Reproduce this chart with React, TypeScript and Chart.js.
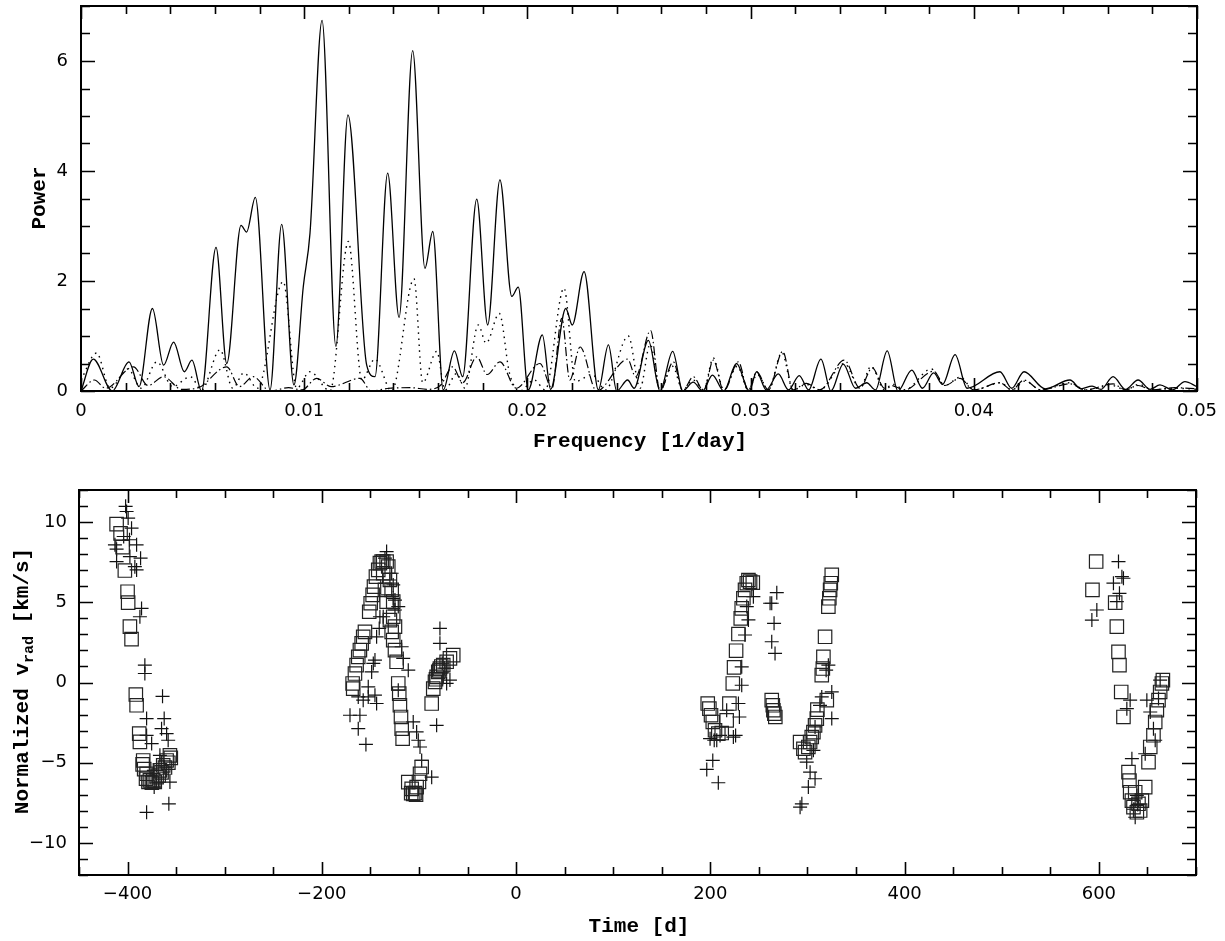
import React, { useEffect, useRef } from 'react';
import { Chart, registerables } from 'chart.js';
Chart.register(...registerables);

// ---------- tick labels ----------
const freqTicks = [0, 0.01, 0.02, 0.03, 0.04, 0.05];
const powerTicks = [0, 2, 4, 6];
const timeTicks = [-400, -200, 0, 200, 400, 600];
const velTicks = [-10, -5, 0, 5, 10];

// ---------- periodogram (solid) ----------
const solidFreq = [0, 0.00055, 0.0014, 0.00215, 0.0026, 0.0032, 0.0037, 0.00415, 0.00463, 0.00497, 0.0054, 0.00605, 0.00653, 0.00717, 0.00742, 0.00781, 0.00847, 0.00899, 0.00954, 0.00996, 0.01026, 0.0108, 0.01142, 0.01196, 0.0128, 0.01317, 0.01374, 0.01425, 0.01486, 0.01541, 0.01576, 0.01623, 0.01673, 0.0171, 0.01773, 0.01822, 0.01877, 0.0193, 0.01959, 0.02004, 0.02067, 0.02104, 0.02172, 0.02201, 0.02254, 0.02318, 0.02363, 0.024, 0.02449, 0.02478, 0.02542, 0.02594, 0.02651, 0.02696, 0.02743, 0.02785, 0.02829, 0.0288, 0.02937, 0.02994, 0.03027, 0.0307, 0.03124, 0.0317, 0.03218, 0.0326, 0.03315, 0.0336, 0.03415, 0.0347, 0.0352, 0.0356, 0.03612, 0.0366, 0.03722, 0.0377, 0.0382, 0.0386, 0.03916, 0.0397, 0.04117, 0.0417, 0.04225, 0.0432, 0.04431, 0.0448, 0.0453, 0.0457, 0.04624, 0.0468, 0.04736, 0.0479, 0.04834, 0.0489, 0.04946, 0.05];
const solidPower = [0, 0.58, 0, 0.53, 0.08, 1.5, 0.47, 0.89, 0.35, 0.56, 0, 2.61, 0.5, 3.01, 2.89, 3.52, 0.02, 3.03, 0.11, 1.9, 2.87, 6.74, 0.81, 5.02, 0.47, 0.26, 3.96, 1.34, 6.19, 2.23, 2.9, 0.02, 0.73, 0.26, 3.49, 1.2, 3.84, 1.72, 1.89, 0.02, 1.02, 0.03, 1.5, 1.2, 2.17, 0.02, 0.84, 0, 0.2, 0.05, 0.92, 0, 0.72, 0, 0.16, 0, 0.29, 0, 0.5, 0, 0.35, 0.02, 0.31, 0.02, 0.28, 0.02, 0.58, 0, 0.49, 0.05, 0.15, 0.02, 0.73, 0, 0.38, 0.05, 0.33, 0.12, 0.66, 0.05, 0.35, 0.05, 0.35, 0.04, 0.2, 0.04, 0.09, 0.03, 0.26, 0.03, 0.2, 0.03, 0.11, 0.02, 0.17, 0.08];

// ---------- dotted ----------
const dotFreq = [0, 0.0007, 0.0013, 0.0021, 0.0027, 0.0034, 0.0041, 0.0049, 0.0054, 0.00623, 0.0068, 0.0073, 0.0079, 0.00906, 0.00966, 0.01026, 0.01116, 0.01198, 0.01258, 0.01317, 0.01392, 0.01492, 0.01531, 0.01594, 0.01631, 0.01683, 0.0172, 0.0178, 0.01815, 0.01874, 0.0192, 0.01967, 0.0203, 0.0208, 0.02164, 0.02215, 0.0229, 0.0235, 0.02452, 0.02505, 0.0255, 0.02594, 0.0265, 0.02696, 0.02743, 0.0279, 0.02833, 0.0288, 0.0294, 0.0299, 0.0303, 0.0308, 0.0314, 0.0319, 0.0325, 0.0331, 0.0342, 0.0349, 0.0354, 0.036, 0.0364, 0.0369, 0.0381, 0.0387, 0.0394, 0.04, 0.0412, 0.0417, 0.0423, 0.043, 0.0443, 0.045, 0.0462, 0.0468, 0.0474, 0.048, 0.049, 0.05];
const dotPower = [0.2, 0.69, 0.05, 0.4, 0.05, 0.53, 0.08, 0.26, 0.02, 0.75, 0.05, 0.33, 0.05, 1.99, 0.05, 0.35, 0, 2.72, 0.2, 0.58, 0, 2.04, 0.15, 0.72, 0.02, 0.32, 0.05, 1.2, 0.87, 1.41, 0.32, 0, 0.2, 0.02, 1.87, 0.17, 0.3, 0.02, 1.0, 0.05, 0.85, 0.02, 0.45, 0.02, 0.2, 0.02, 0.6, 0.02, 0.45, 0.02, 0.3, 0.02, 0.7, 0.02, 0.12, 0.02, 0.5, 0.05, 0.45, 0.02, 0.12, 0.02, 0.4, 0.1, 0.25, 0.02, 0.15, 0.02, 0.18, 0.02, 0.15, 0.02, 0.1, 0.02, 0.12, 0.02, 0.05, 0.03];

// ---------- dash-dot ----------
const dashFreq = [0, 0.0006, 0.0011, 0.00235, 0.003, 0.0037, 0.0045, 0.0052, 0.00653, 0.0071, 0.00772, 0.00847, 0.0093, 0.0099, 0.01056, 0.0112, 0.0125, 0.013, 0.0138, 0.0148, 0.0155, 0.0161, 0.01665, 0.0171, 0.01773, 0.0182, 0.01877, 0.0195, 0.02056, 0.0211, 0.02154, 0.0219, 0.02236, 0.0231, 0.02449, 0.02485, 0.02552, 0.02594, 0.02654, 0.02696, 0.02743, 0.0279, 0.02833, 0.0288, 0.02945, 0.0299, 0.03027, 0.0308, 0.03144, 0.0319, 0.0325, 0.0331, 0.0342, 0.0349, 0.03545, 0.036, 0.0363, 0.0369, 0.0382, 0.0387, 0.03938, 0.04, 0.04117, 0.0417, 0.04225, 0.043, 0.04431, 0.045, 0.04624, 0.0468, 0.04736, 0.048, 0.049, 0.05];
const dashPower = [0, 0.2, 0.05, 0.44, 0.1, 0.26, 0.03, 0.05, 0.44, 0.08, 0.26, 0, 0.06, 0.02, 0.23, 0.08, 0.23, 0, 0.05, 0.06, 0.03, 0.1, 0.44, 0.15, 0.62, 0.3, 0.53, 0.05, 0.5, 0.05, 1.32, 0.2, 0.8, 0, 0.58, 0.26, 1.1, 0, 0.53, 0, 0.26, 0, 0.56, 0, 0.53, 0, 0.35, 0.02, 0.72, 0.02, 0.14, 0.02, 0.56, 0.05, 0.42, 0.05, 0.1, 0.02, 0.36, 0.1, 0.23, 0.02, 0.15, 0.02, 0.2, 0.02, 0.13, 0.02, 0.13, 0.02, 0.1, 0.02, 0.06, 0.04];

// ---------- radial velocities: squares ----------
const sqTime = [-411.3, -407.2, -405.1, -402.8, -400, -399.4, -397.6, -395.9, -391.5, -390.7, -388, -387.3, -384.5, -383.9, -382.9, -381, -380.4, -378.5, -377, -375, -373.6, -372, -370.1, -368, -366.7, -365, -363.3, -361.5, -359.8, -358, -356.4, -355.5,
  -168.3, -167.7, -165.9, -164.2, -162.5, -160.8, -159, -157.4, -155.6, -151.2, -149.7, -147.7, -146.3, -144.3, -141.9, -140.2, -138.4, -136.8, -133.3, -131.6,
  -136.8, -135, -133.3, -129.9, -128.1, -126.5, -124.7, -123, -121.3, -120.3, -119.6, -118.5, -117.8, -116.8, -129.9, -128.1, -126.5, -126.5, -124.7,
  -111, -108, -107.5, -105.9, -104, -103, -102.4, -100, -98.9, -97.2,
  -86.9, -85.3, -83.5, -82.5, -81.8, -80.1, -79, -78.4, -77, -75, -71.5, -68.1, -64.7,
  197.3, 199, 200.7, 202.5, 204.8, 208.2, 211.7, 216.8, 219.6, 223.1, 224.4, 226.5, 228.9, 231.3, 232.3, 234, 235.7, 237.5, 239.2, 240.9, 243.7,
  263.2, 264.3, 264.9, 265.9, 266.9,
  292.4, 295.8, 297.5, 300.9, 302.7, 304.4, 306.1, 307.8, 309.6, 310.2, 319.9, 314.7, 315.8, 316.4, 318.1, 321.5, 322.5, 323.3, 324, 325,
  597.2, 593.4, 616.8, 618.5, 620.2, 621.2, 623, 625.3, 630.5, 631.5, 632.2, 634, 635.6, 637.4, 639.1, 640.8, 642.5, 644.3, 647.7, 651.1, 652.9, 656.2, 658, 659.7, 661.4, 663.1, 664.9, 665.9];
const sqVel = [9.87, 9.3, 8.44, 6.98, 5.66, 4.98, 3.48, 2.7, -0.75, -1.42, -3.19, -3.7, -5.1, -4.86, -5.4, -6.0, -5.69, -6.2, -6.1, -6.25, -6.1, -6.2, -5.9, -5.8, -5.48, -5.6, -5.17, -5.3, -4.86, -5.0, -4.54, -4.7,
  -0.06, -0.38, 0.56, 1.08, 1.6, 2.02, 2.44, 2.85, 3.16, 4.41, 4.94, 5.46, 5.98, 6.6, 7.02, 7.44, 7.54, 7.54, 7.54, 7.23,
  6.81, 5.77, 5.04, 3.89, 3.16, 2.64, 2.02, 1.29, -0.06, -0.69, -1.42, -2.15, -2.88, -3.5, 6.39, 5.77, 5.04, 4.1, 3.48,
  -6.21, -6.9, -6.63, -6.94, -6.9, -7.0, -6.52, -6.2, -5.69, -5.27,
  -1.31, -0.38, 0.04, 0.2, 0.35, 0.66, 0.75, 0.87, 1.0, 1.08, 1.29, 1.5, 1.71,
  -1.31, -1.63, -2.04, -2.46, -2.98, -3.19, -3.15, -2.36, -1.31, -0.06, 0.94, 1.98, 3.02, 4.0, 4.62, 5.25, 5.77, 6.19, 6.39, 6.29, 6.23,
  -1.1, -1.42, -1.73, -1.94, -2.15,
  -3.71, -4.13, -4.34, -4.02, -3.71, -3.4, -3.09, -2.67, -2.25, -1.69, -1.1, 0.46, 0.87, 1.6, 2.85, 4.73, 5.25, 5.77, 6.19, 6.71,
  7.54, 5.77, 4.98, 3.48, 1.91, 1.08, -0.59, -2.15, -5.59, -6.11, -6.84, -7.36, -7.77, -6.84, -8.09, -7.56, -7.98, -7.36, -6.52, -4.96, -4.02, -3.29, -2.46, -1.73, -1.1, -0.59, -0.06, 0.15];

// ---------- radial velocities: crosses ----------
const plusTime = [-402, -401, -399.4, -395.9, -413, -411.3, -411.3, -397.6, -390.7, -386.6, -390.7, -392.5, -385.6, -387.3, -382.2, -382.2, -364, -380.4, -362.3, -365, -380.4, -375.2, -359.8, -358.2, -366.7, -372.9, -370.1, -372.6, -380.4, -357.5, -356.4, -362.3, -404, -398,
  -171, -160.8, -162.5, -154.6, -162.5, -157.4, -152.2, -145.3, -143.6, -152.2, -148.7, -147, -145.3, -143.6, -140.9, -140.2, -133.3, -135, -128.1, -126.5, -124.7, -121.3, -117.8, -116.2, -111, -121.3, -129.9, -126.5, -124.7, -136.8, -105.9, -102.4, -100.7, -98.9, -97.2, -86.9, -78.4, -78.4, -68.1, -71.5, -81.8, -76, -74,
  268.4, 263.2, 261.5, 265.6, 263.2, 266.6, 196.3, 202.5, 208.2, 199.7, 206.6, 216.8, 223.7, 229.9, 228.9, 232.3, 232.3, 235.7, 239.2, 237.5, 244.3, 292.4, 294.2, 300.9, 302.7, 307.8, 299.2, 306.1, 307.8, 312.9, 314.7, 325, 325, 319.2, 321.5, 204, 210, 226,
  620.2, 623.7, 625.3, 615, 621.2, 618.5, 597.9, 592.8, 632.2, 628.8, 649.4, 652.9, 656.2, 658, 647.7, 634, 639.1, 637.4, 663.1, 661.4, 636, 640];
const plusVel = [10.98, 10.66, 10.25, 9.62, 8.58, 8.31, 7.54, 7.85, 8.58, 7.75, 7.02, 7.22, 4.62, 4.1, 1.08, 0.56, -0.86, -2.25, -2.25, -2.88, -3.3, -3.81, -3.19, -3.6, -4.54, -5.48, -6.21, -6.52, -8.09, -7.56, -6.21, -5.27, 9.1, 8.9,
  -2.04, -2.04, -2.88, -3.86, -0.9, -1.1, -0.9, -0.79, -1.31, -0.27, 0.66, 1.19, 1.4, 2.85, 3.37, 4.1, 8.16, 7.75, 6.81, 6.08, 5.14, 4.73, 2.23, 1.5, 0.77, -0.48, 6.39, 5.25, 4.52, 4.1, -2.46, -3.08, -3.6, -4.02, -4.86, -5.9, 3.37, 2.44, 0.15, -0.06, -2.67, 1.2, 0.9,
  5.6, 4.94, 4.94, 3.69, 2.54, 1.81, -5.42, -4.86, -6.25, -3.5, -3.6, -1.73, -3.4, -2.15, -1.31, -0.17, 0.98, 2.96, 3.9, 4.73, 5.35, -7.77, -7.56, -6.52, -5.59, -6.0, -4.96, -4.23, -2.77, -1.42, -0.9, -0.59, -2.25, 0.77, 1.08, -3.6, -3.3, -3.3,
  7.54, 6.6, 6.5, 6.19, 5.56, 5.04, 4.52, 3.89, -1.1, -1.63, -1.1, -1.84, -2.88, -3.6, -4.44, -4.75, -7.04, -8.4, 0.15, -1.0, -7.9, -7.6];

const pts = (xs: number[], ys: number[]) => xs.map((x, i) => ({ x, y: ys[i] }));

const tickFont = { family: '"DejaVu Sans", sans-serif', size: 18 };
const titleFont = 'bold 21px "Liberation Mono", monospace';
const subFont = 'bold 15px "Liberation Mono", monospace';

const minus = (v: number) => (v < 0 ? '\u2212' + Math.abs(v) : String(v));

// frame, inner ticks and axis titles
const framePlugin = {
  id: 'frame',
  afterDraw(chart: any, _args: any, opts: any) {
    const { ctx, chartArea: a, scales } = chart;
    const x = scales.x, y = scales.y;
    ctx.save();
    ctx.strokeStyle = '#000';
    ctx.lineWidth = 1.6;
    const isMajor = (v: number, step: number) => Math.abs(v / step - Math.round(v / step)) < 1e-6;
    ctx.beginPath();
    const nx0 = Math.ceil(x.min / opts.xMinor - 1e-6), nx1 = Math.floor(x.max / opts.xMinor + 1e-6);
    for (let i = nx0; i <= nx1; i++) {
      const v = i * opts.xMinor;
      const len = isMajor(v, opts.xMajor) ? opts.majorLen : opts.minorLen;
      const px = Math.round(x.getPixelForValue(v)) + 0.5;
      ctx.moveTo(px, a.bottom); ctx.lineTo(px, a.bottom - len);
      ctx.moveTo(px, a.top); ctx.lineTo(px, a.top + len);
    }
    const ny0 = Math.ceil(y.min / opts.yMinor - 1e-6), ny1 = Math.floor(y.max / opts.yMinor + 1e-6);
    for (let i = ny0; i <= ny1; i++) {
      const v = i * opts.yMinor;
      const len = isMajor(v, opts.yMajor) ? opts.majorLen + 1 : opts.minorLen + 1;
      const py = Math.round(y.getPixelForValue(v)) + 0.5;
      ctx.moveTo(a.left, py); ctx.lineTo(a.left + len, py);
      ctx.moveTo(a.right, py); ctx.lineTo(a.right - len, py);
    }
    ctx.stroke();
    ctx.lineWidth = 2;
    ctx.strokeRect(a.left, a.top, a.right - a.left, a.bottom - a.top);

    ctx.fillStyle = '#000';
    ctx.font = titleFont;
    ctx.textAlign = 'center';
    ctx.textBaseline = 'middle';
    ctx.fillText(opts.xTitle, opts.xTitlePos[0], opts.xTitlePos[1]);
    ctx.save();
    ctx.translate(opts.yTitlePos[0], opts.yTitlePos[1]);
    ctx.rotate(-Math.PI / 2);
    if (opts.ySub) {
      const [pre, sub, post] = opts.ySub as string[];
      ctx.font = titleFont;
      const w1 = ctx.measureText(pre).width;
      const w3 = ctx.measureText(post).width;
      ctx.font = subFont;
      const w2 = ctx.measureText(sub).width;
      let cx = -(w1 + w2 + w3) / 2;
      ctx.textAlign = 'left';
      ctx.font = titleFont;
      ctx.fillText(pre, cx, 0);
      cx += w1;
      ctx.font = subFont;
      ctx.fillText(sub, cx, 6);
      cx += w2;
      ctx.font = titleFont;
      ctx.fillText(post, cx, 0);
    } else {
      ctx.fillText(opts.yTitle, 0, 0);
    }
    ctx.restore();
    ctx.restore();
  },
};

function fixedAxes(yWidth: number, xHeight: number) {
  return {
    y: (s: any) => { s.width = yWidth; s.paddingTop = 0; s.paddingBottom = 0; },
    x: (s: any) => { s.height = xHeight; s.paddingLeft = 0; s.paddingRight = 0; },
  };
}

export default function App() {
  const topRef = useRef<HTMLCanvasElement>(null);
  const botRef = useRef<HTMLCanvasElement>(null);

  useEffect(() => {
    document.body.style.margin = '0';
    const topFit = fixedAxes(81, 460 - 391);
    const lineDs = (label: string, xs: number[], ys: number[], dash: number[], width: number) => ({
      label,
      data: pts(xs, ys),
      showLine: true,
      borderColor: '#000',
      borderWidth: width,
      borderDash: dash,
      pointRadius: 0,
      cubicInterpolationMode: 'monotone' as const,
      fill: false,
    });
    const top = new Chart(topRef.current!, {
      type: 'scatter',
      data: {
        datasets: [
          lineDs('solid', solidFreq, solidPower, [], 1.3),
          lineDs('dotted', dotFreq, dotPower, [1.5, 4.5], 1.4),
          lineDs('dash-dot', dashFreq, dashPower, [9, 3, 1.5, 3], 1.2),
        ],
      },
      options: {
        animation: false,
        responsive: false,
        maintainAspectRatio: false,
        layout: { padding: { left: 0, top: 6, right: 1225 - 1197, bottom: 0 } },
        plugins: {
          legend: { display: false },
          tooltip: { enabled: false },
          frame: {
            xMinor: 0.002, xMajor: 0.01, yMinor: 0.5, yMajor: 2, majorLen: 13, minorLen: 8,
            xTitle: 'Frequency [1/day]', xTitlePos: [640, 442],
            yTitle: 'Power', yTitlePos: [40, 198],
          },
        } as any,
        scales: {
          x: {
            type: 'linear', min: 0, max: 0.05,
            grid: { display: false, drawTicks: false },
            border: { display: false },
            afterFit: topFit.x,
            afterBuildTicks: (s: any) => { s.ticks = freqTicks.map((v) => ({ value: v })); },
            ticks: { font: tickFont, color: '#000', padding: 10, maxRotation: 0, callback: (v: any) => String(Number(Number(v).toFixed(3))) },
          },
          y: {
            type: 'linear', min: 0, max: 7,
            grid: { display: false, drawTicks: false },
            border: { display: false },
            afterFit: topFit.y,
            afterBuildTicks: (s: any) => { s.ticks = powerTicks.map((v) => ({ value: v })); },
            ticks: { font: tickFont, color: '#000', padding: 13, callback: (v: any) => String(v) },
          },
        },
      },
      plugins: [framePlugin],
    });

    const botFit = fixedAxes(79, 481 - 415);
    const bot = new Chart(botRef.current!, {
      type: 'scatter',
      data: {
        datasets: [
          {
            label: 'squares',
            data: pts(sqTime, sqVel),
            pointStyle: 'rect',
            pointRadius: 9.5,
            borderColor: '#222',
            backgroundColor: 'rgba(0,0,0,0)',
            borderWidth: 1.2,
          },
          {
            label: 'crosses',
            data: pts(plusTime, plusVel),
            pointStyle: 'cross',
            pointRadius: 7,
            borderColor: '#111',
            backgroundColor: 'rgba(0,0,0,0)',
            borderWidth: 1.2,
          },
        ],
      },
      options: {
        animation: false,
        responsive: false,
        maintainAspectRatio: false,
        layout: { padding: { left: 0, top: 30, right: 1225 - 1196, bottom: 0 } },
        plugins: {
          legend: { display: false },
          tooltip: { enabled: false },
          frame: {
            xMinor: 50, xMajor: 200, yMinor: 1, yMajor: 5, majorLen: 13, minorLen: 8,
            xTitle: 'Time [d]', xTitlePos: [639, 467],
            yTitle: 'Normalized vrad [km/s]', ySub: ['Normalized v', 'rad', ' [km/s]'], yTitlePos: [23, 221],
          },
        } as any,
        scales: {
          x: {
            type: 'linear', min: -450, max: 700,
            grid: { display: false, drawTicks: false },
            border: { display: false },
            afterFit: botFit.x,
            afterBuildTicks: (s: any) => { s.ticks = timeTicks.map((v) => ({ value: v })); },
            ticks: { font: tickFont, color: '#000', padding: 9, maxRotation: 0, callback: (v: any) => minus(Number(v)) },
          },
          y: {
            type: 'linear', min: -12, max: 12,
            grid: { display: false, drawTicks: false },
            border: { display: false },
            afterFit: botFit.y,
            afterBuildTicks: (s: any) => { s.ticks = velTicks.map((v) => ({ value: v })); },
            ticks: { font: tickFont, color: '#000', padding: 12, callback: (v: any) => minus(Number(v)) },
          },
        },
      },
      plugins: [framePlugin],
    });

    return () => { top.destroy(); bot.destroy(); };
  }, []);

  return (
    <div style={{ position: 'absolute', left: 0, top: 0, width: 1225, height: 941, background: '#fff' }}>
      <canvas ref={topRef} width={1225} height={460} style={{ position: 'absolute', left: 0, top: 0 }} />
      <canvas ref={botRef} width={1225} height={481} style={{ position: 'absolute', left: 0, top: 460 }} />
    </div>
  );
}
